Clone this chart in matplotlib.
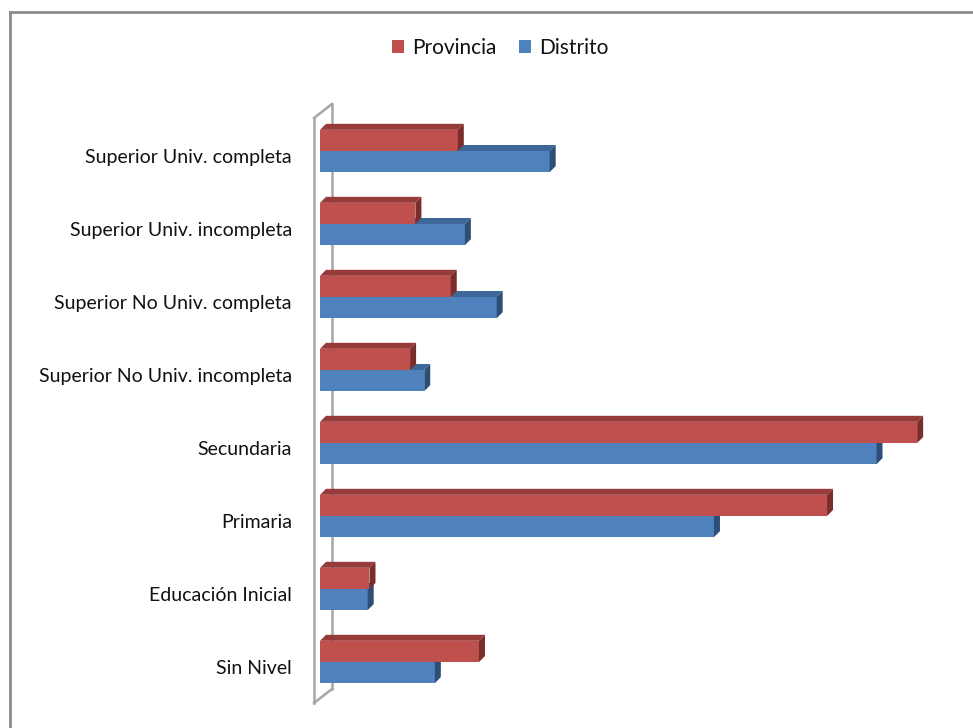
import matplotlib
matplotlib.use("Agg")
import matplotlib.pyplot as plt
from matplotlib.patches import Polygon
from matplotlib.lines import Line2D
from matplotlib.transforms import ScaledTranslation

plt.rcParams['font.family'] = ['Lato', 'DejaVu Sans']

categories = ["Sin Nivel", "Educación Inicial", "Primaria", "Secundaria",
              "Superior No Univ. incompleta", "Superior No Univ. completa",
              "Superior Univ. incompleta", "Superior Univ. completa"]
provincia = [9.0, 2.8, 28.7, 33.8, 5.1, 7.4, 5.4, 7.8]
distrito = [6.5, 2.7, 22.3, 31.5, 5.9, 10.0, 8.2, 13.0]

W, H, DPI = 973, 728, 100
fig = plt.figure(figsize=(W / DPI, H / DPI), dpi=DPI)

# axes placed in pixel units (top-left origin)
ax_l, ax_r, ax_t, ax_b = 314, 956, 118, 703
ax = fig.add_axes([ax_l / W, 1 - ax_b / H, (ax_r - ax_l) / W, (ax_b - ax_t) / H])
ax.set_xlim(-0.34, 36)
ax.set_ylim(-0.562, 7.452)
for s in ax.spines.values():
    s.set_visible(False)
ax.set_xticks([])
ax.set_yticks(range(len(categories)))
ax.set_yticklabels(categories, fontsize=14, color="#111111")
ax.tick_params(axis='y', length=0, pad=16)
label_shift = ScaledTranslation(0, -5 / DPI, fig.dpi_scale_trans)
for lab in ax.get_yticklabels():
    lab.set_transform(lab.get_transform() + label_shift)

# depth of the 3-D effect in pixels
depth_px = 6

fig.canvas.draw()
inv = ax.transData.inverted()
x0d, y0d = inv.transform((0, 0))
x1d, y1d = inv.transform((depth_px, depth_px))
ddx, ddy = x1d - x0d, y1d - y0d

bar_h = 0.29
series = [
    (distrito, -bar_h / 2, "#4F81BD", "#3D6798", "#2E4E78", "Distrito"),
    (provincia, bar_h / 2, "#C0504D", "#963B39", "#7B2D2B", "Provincia"),
]

# back wall outline
wall_kw = dict(color="#A6A6A6", lw=1.8, clip_on=False, zorder=0.5)
wall_off = ScaledTranslation(18 / DPI, 14 / DPI, fig.dpi_scale_trans)
ax.add_line(Line2D([0, 0], [0, 1], transform=ax.transAxes, **wall_kw))
ax.add_line(Line2D([0, 0], [0, 1], transform=ax.transAxes + wall_off, **wall_kw))
ax.add_line(Line2D([0, 18 / (ax_r - ax_l)], [1, 1 + 14 / (ax_b - ax_t)],
                   transform=ax.transAxes, **wall_kw))
ax.add_line(Line2D([0, 18 / (ax_r - ax_l)], [0, 14 / (ax_b - ax_t)],
                   transform=ax.transAxes, **wall_kw))

z = 2
handles = {}
for vals, off, front, top, side, name in series:
    for i, v in enumerate(vals):
        yc = i + off
        yb, yt = yc - bar_h / 2, yc + bar_h / 2
        bars = ax.barh(yc, v, height=bar_h, left=0, color=front,
                       edgecolor='none', zorder=z)
        ax.add_patch(Polygon([(0, yt), (v, yt), (v + ddx, yt + ddy),
                              (0 + ddx, yt + ddy)], closed=True,
                             facecolor=top, edgecolor='none', zorder=z))
        ax.add_patch(Polygon([(v, yb), (v, yt), (v + ddx, yt + ddy),
                              (v + ddx, yb + ddy)], closed=True,
                             facecolor=side, edgecolor='none', zorder=z))
        handles[name] = bars
    z += 1

fig.legend([handles["Provincia"], handles["Distrito"]],
           ["Provincia", "Distrito"], loc="center",
           bbox_to_anchor=(500 / W, 1 - 48 / H), ncol=2, frameon=False,
           fontsize=15, handlelength=0.6, handleheight=0.6,
           handletextpad=0.35, columnspacing=1.1, labelcolor="#111111")

# chart border
fig.add_artist(Line2D([10 / W, 1], [1 - 12 / H, 1 - 12 / H], color="#8C8C8C",
                      lw=2, transform=fig.transFigure))
fig.add_artist(Line2D([10 / W, 10 / W], [0, 1 - 12 / H], color="#8C8C8C",
                      lw=2, transform=fig.transFigure))

fig.savefig("out.png", dpi=DPI)
